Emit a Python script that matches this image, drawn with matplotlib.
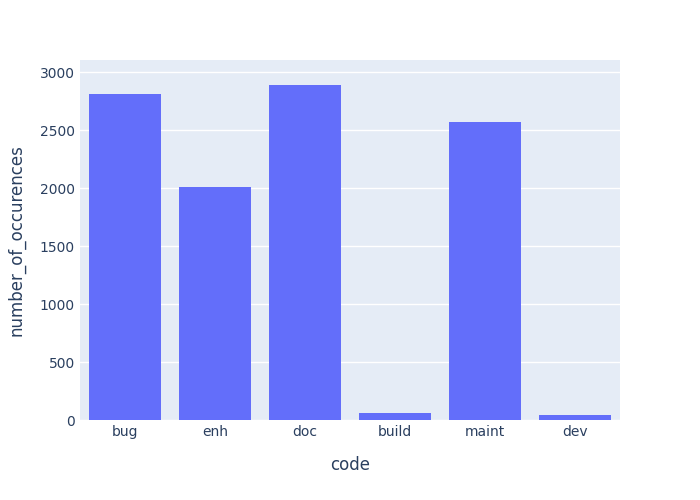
import matplotlib
matplotlib.use('Agg')
import matplotlib.pyplot as plt

codes = ['bug', 'enh', 'doc', 'build', 'maint', 'dev']
occurences = [2810, 2010, 2890, 60, 2570, 42]

fig = plt.figure(figsize=(7, 5), dpi=100)
ax = fig.add_axes([0.114, 0.16, 0.772, 0.72])
ax.set_facecolor('#E5ECF6')
ax.bar(range(len(codes)), occurences, width=0.8, color='#636EFA', zorder=3)
ax.set_xlim(-0.5, len(codes) - 0.5)
ax.set_ylim(0, 3000 * 1.035)
ax.set_yticks([0, 500, 1000, 1500, 2000, 2500, 3000])
ax.set_xticks(range(len(codes)))
ax.set_xticklabels(codes)
ax.grid(axis='y', color='white', linewidth=1, zorder=0)
for s in ax.spines.values():
    s.set_visible(False)
ax.tick_params(length=0, colors='#2a3f5f', labelsize=10)
ax.set_xlabel('code', color='#2a3f5f', fontsize=12, labelpad=12)
ax.set_ylabel('number_of_occurences', color='#2a3f5f', fontsize=12, labelpad=10)
fig.savefig('out.png')
